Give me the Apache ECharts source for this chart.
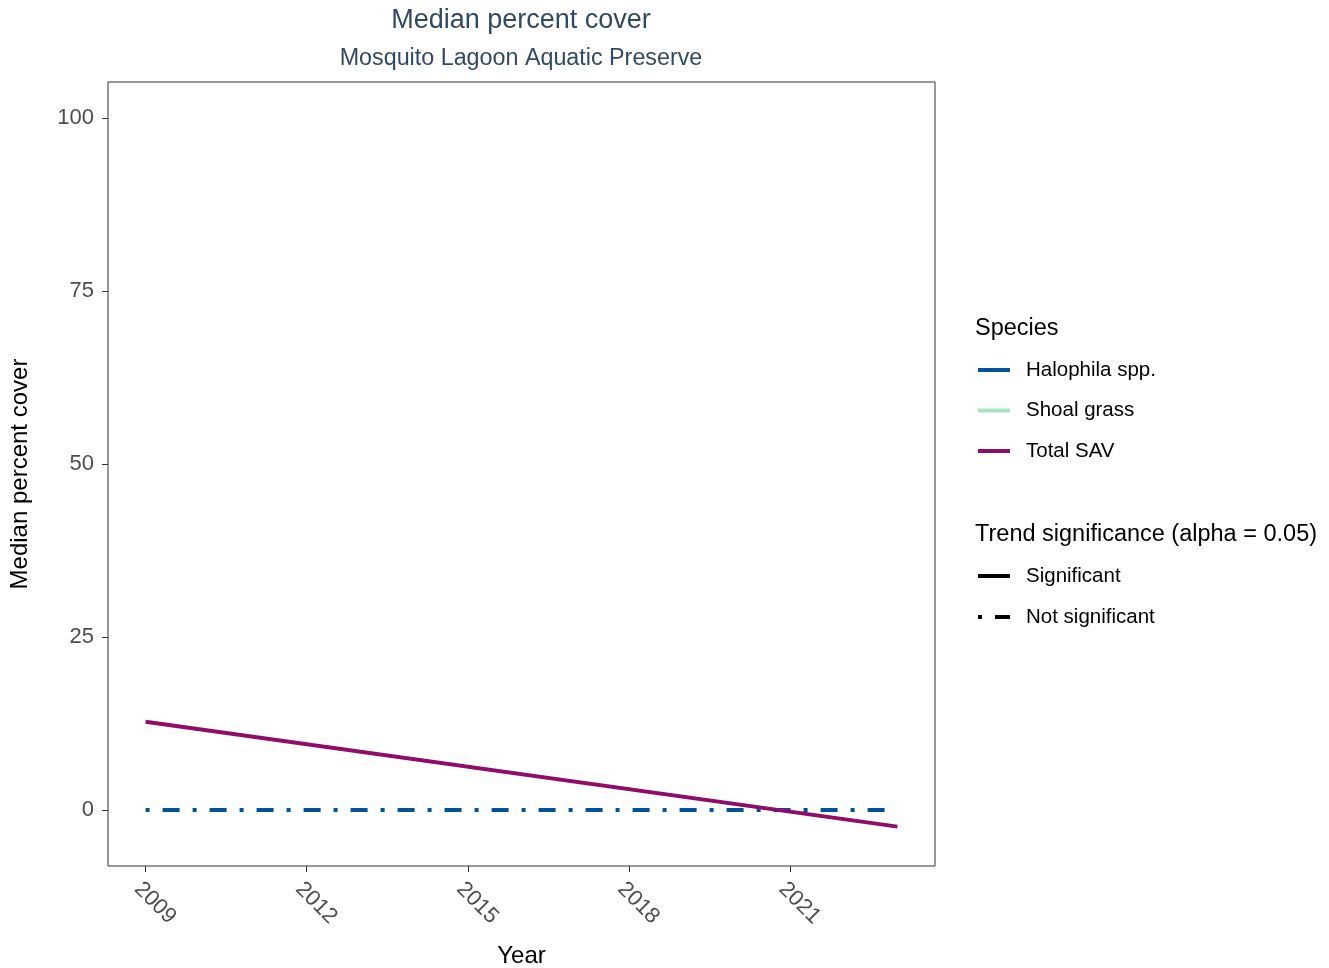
<!DOCTYPE html>
<html>
<head>
<meta charset="utf-8">
<title>Median percent cover</title>
<script src="https://cdn.jsdelivr.net/npm/echarts@6/dist/echarts.min.js"></script>
<style>
  html, body { margin: 0; padding: 0; background: #ffffff; }
  #chart { width: 1329px; height: 968px; }
</style>
</head>
<body>
<div id="chart"></div>
<script>
// Trend lines (start and end year of each fitted trend)
const halophilaTrend = [[2009, 0], [2023, 0]];
const shoalGrassTrend = [];
const totalSavTrend = [[2009, 12.76], [2023, -2.41]];

const yearTicks = [2009, 2012, 2015, 2018, 2021];
const coverTicks = [0, 25, 50, 75, 100];

const speciesNames = ['Halophila spp.', 'Shoal grass', 'Total SAV'];
const speciesColors = ['#00539b', '#a8e4c4', '#900c6b'];
const significanceNames = ['Significant', 'Not significant'];

const FONT = 'Liberation Sans, Arial, sans-serif';
const DOT_DASH = [4, 13, 17, 13];

const chart = echarts.init(document.getElementById('chart'), null, { renderer: 'canvas' });

const option = {
  backgroundColor: '#ffffff',
  animation: false,
  textStyle: { fontFamily: FONT },
  grid: {
    left: 108, top: 82, width: 827, height: 784,
    containLabel: false,
    outerBoundsMode: 'none',
    show: true, borderColor: '#333333', borderWidth: 1, backgroundColor: '#ffffff'
  },
  xAxis: {
    type: 'value',
    min: 2008.3, max: 2023.7,
    name: 'Year',
    nameLocation: 'middle',
    nameGap: 78,
    nameTextStyle: { fontSize: 24, color: '#000000', fontFamily: FONT },
    axisLine: { show: false, onZero: false },
    splitLine: { show: false },
    axisTick: { show: true, length: 6, lineStyle: { color: '#333333', width: 1 }, customValues: yearTicks },
    axisLabel: {
      customValues: yearTicks,
      rotate: -45,
      margin: 12,
      fontSize: 22,
      verticalAlign: 'top',
      color: '#4d4d4d',
      fontFamily: FONT,
      formatter: v => String(v)
    }
  },
  yAxis: {
    type: 'value',
    min: -8.1, max: 105.2,
    name: 'Median percent cover',
    nameLocation: 'middle',
    nameGap: 76,
    nameTextStyle: { fontSize: 24, color: '#000000', fontFamily: FONT },
    axisLine: { show: false, onZero: false },
    splitLine: { show: false },
    axisTick: { show: true, length: 6, lineStyle: { color: '#333333', width: 1 }, customValues: coverTicks },
    axisLabel: {
      customValues: coverTicks,
      margin: 14,
      fontSize: 22,
      color: '#4d4d4d',
      fontFamily: FONT,
      formatter: v => String(v)
    }
  },
  legend: [
    {
      orient: 'vertical',
      left: 978, top: 359, padding: 0,
      itemWidth: 32, itemHeight: 4, itemGap: 18.5,
      selectedMode: false,
      data: speciesNames.map(n => ({ name: n, icon: 'rect' })),
      textStyle: { fontSize: 20.5, lineHeight: 22, color: '#000000', fontFamily: FONT, padding: [0, 0, 0, 11] }
    },
    {
      orient: 'vertical',
      left: 978, top: 565, padding: 0,
      itemWidth: 32, itemHeight: 4, itemGap: 19,
      selectedMode: false,
      data: [
        { name: significanceNames[0], icon: 'rect' },
        { name: significanceNames[1], icon: 'path://M0,0h4v4h-4z M17,0h15v4h-15z' }
      ],
      textStyle: { fontSize: 20.5, lineHeight: 22, color: '#000000', fontFamily: FONT, padding: [0, 0, 0, 11] }
    }
  ],
  graphic: [
    { type: 'text', x: 521, y: 21,
      style: { text: 'Median percent cover', font: '27px ' + FONT, fill: '#314a64', align: 'center', verticalAlign: 'middle' } },
    { type: 'text', x: 521, y: 59,
      style: { text: 'Mosquito Lagoon Aquatic Preserve', font: '23.3px ' + FONT, fill: '#314a64', align: 'center', verticalAlign: 'middle' } },
    { type: 'text', x: 975, y: 329,
      style: { text: 'Species', font: '23.5px ' + FONT, fill: '#000000', align: 'left', verticalAlign: 'middle' } },
    { type: 'text', x: 975, y: 535,
      style: { text: 'Trend significance (alpha = 0.05)', font: '23.5px ' + FONT, fill: '#000000', align: 'left', verticalAlign: 'middle' } }
  ],
  series: [
    {
      name: speciesNames[0], type: 'line', data: halophilaTrend,
      showSymbol: false, symbol: 'none', z: 3,
      itemStyle: { color: speciesColors[0] },
      lineStyle: { color: speciesColors[0], width: 4, type: DOT_DASH, cap: 'butt' }
    },
    {
      name: speciesNames[1], type: 'line', data: shoalGrassTrend,
      showSymbol: false, symbol: 'none', z: 3,
      itemStyle: { color: speciesColors[1] },
      lineStyle: { color: speciesColors[1], width: 4, type: DOT_DASH, cap: 'butt' }
    },
    {
      name: speciesNames[2], type: 'line', data: totalSavTrend,
      showSymbol: false, symbol: 'none', z: 4,
      itemStyle: { color: speciesColors[2] },
      lineStyle: { color: speciesColors[2], width: 4, type: 'solid' }
    },
    {
      name: significanceNames[0], type: 'line', data: [],
      showSymbol: false, symbol: 'none',
      itemStyle: { color: '#000000' }, lineStyle: { color: '#000000' }
    },
    {
      name: significanceNames[1], type: 'line', data: [],
      showSymbol: false, symbol: 'none',
      itemStyle: { color: '#000000' }, lineStyle: { color: '#000000', type: DOT_DASH }
    }
  ]
};

chart.setOption(option);
</script>
</body>
</html>
